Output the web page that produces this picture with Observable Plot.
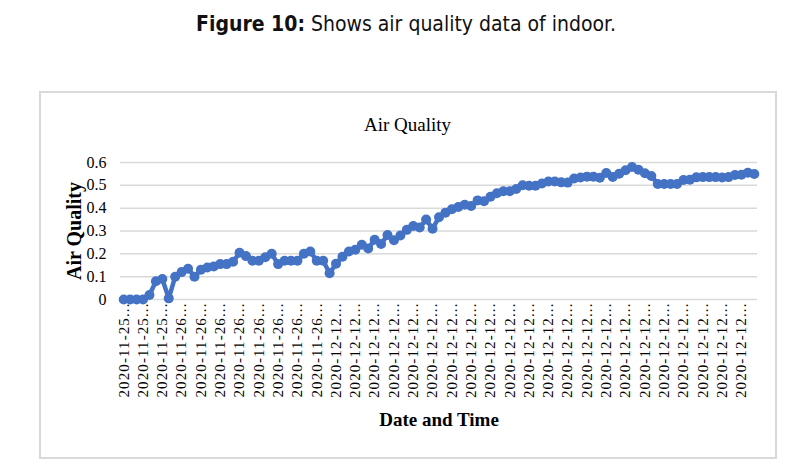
<!DOCTYPE html>
<html><head><meta charset="utf-8">
<script src="https://cdn.jsdelivr.net/npm/d3@7"></script>
<script src="https://cdn.jsdelivr.net/npm/@observablehq/plot@0.6"></script>
<style>
body{margin:0;background:#fff;}
#page{position:relative;width:792px;height:462px;overflow:hidden;background:#fff;}
#caption{position:absolute;left:0;top:12px;width:812px;text-align:center;font-family:"Liberation Sans Narrow","DejaVu Sans",sans-serif;font-stretch:condensed;font-size:21px;color:#111;}
#box{position:absolute;left:39px;top:91px;width:738px;height:368px;border:2px solid #d9d9d9;box-sizing:border-box;}
#title{position:absolute;left:40px;top:114px;width:735px;text-align:center;font-family:"Liberation Serif","Times New Roman",serif;font-size:19px;color:#000;}
#chart{position:absolute;left:40px;top:93px;}
#chart g[aria-label="x-axis tick label"] text{letter-spacing:1.1px;}
</style></head>
<body><div id="page">
<div id="caption"><b>Figure 10:</b> Shows air quality data of indoor.</div>
<div id="box"></div>
<div id="title">Air Quality</div>
<div id="chart"></div>
</div>
<script>
// Air quality readings, one per category (99 categories)
const airQuality = [
  0, 0, 0, 0, 0.02, 0.08, 0.09, 0.005, 0.10, 0.12,
  0.135, 0.10, 0.13, 0.14, 0.145, 0.155, 0.155, 0.165, 0.205, 0.19,
  0.17, 0.17, 0.185, 0.20, 0.155, 0.17, 0.17, 0.17, 0.20, 0.21,
  0.17, 0.17, 0.115, 0.157, 0.187, 0.21, 0.218, 0.24, 0.223, 0.262,
  0.243, 0.282, 0.26, 0.28, 0.305, 0.322, 0.315, 0.35, 0.31, 0.36,
  0.38, 0.395, 0.405, 0.415, 0.41, 0.434, 0.43, 0.45, 0.465, 0.474,
  0.474, 0.484, 0.50, 0.498, 0.498, 0.508, 0.517, 0.517, 0.513, 0.512,
  0.53, 0.534, 0.538, 0.538, 0.533, 0.554, 0.537, 0.551, 0.566, 0.58,
  0.568, 0.553, 0.541, 0.506, 0.506, 0.506, 0.506, 0.523, 0.525, 0.535,
  0.536, 0.536, 0.536, 0.534, 0.536, 0.545, 0.546, 0.555, 0.55
];
// Visible (truncated) category labels, shown on every third category
const tickLabels = [
  "2020-11-25...", "2020-11-25...", "2020-11-25...",
  "2020-11-26...", "2020-11-26...", "2020-11-26...", "2020-11-26...",
  "2020-11-26...", "2020-11-26...", "2020-11-26...", "2020-11-26...",
  "2020-12-12...", "2020-12-12...", "2020-12-12...", "2020-12-12...",
  "2020-12-12...", "2020-12-12...", "2020-12-12...", "2020-12-12...",
  "2020-12-12...", "2020-12-12...", "2020-12-12...", "2020-12-12...",
  "2020-12-12...", "2020-12-12...", "2020-12-12...", "2020-12-12...",
  "2020-12-12...", "2020-12-12...", "2020-12-12...", "2020-12-12...",
  "2020-12-12...", "2020-12-12..."
];
const labelStep = 3;
const yTicks = [0, 0.1, 0.2, 0.3, 0.4, 0.5, 0.6];
const yTitle = "Air Quality";
const xTitle = "Date and Time";

const categories = airQuality.map((_, i) => i);
const data = airQuality.map((v, i) => ({i, v}));
const tickIdx = tickLabels.map((_, k) => k * labelStep);

const serif = '"Liberation Serif", "Times New Roman", serif';
const chart = Plot.plot({
  width: 735, height: 362,
  marginLeft: 80, marginRight: 18, marginTop: 69, marginBottom: 156,
  style: {fontFamily: serif, color: "#000", background: "transparent", overflow: "visible"},
  x: {type: "point", domain: categories, padding: 0.5, align: 0.5, axis: null},
  y: {domain: [0, 0.6], axis: null},
  marks: [
    Plot.ruleY(yTicks, {stroke: "#d9d9d9", strokeWidth: 1.5}),
    Plot.axisY(yTicks, {tickSize: 0, tickPadding: 14, fontSize: 16, label: null,
      tickFormat: d => d === 0 ? "0" : d.toFixed(1)}),
    Plot.axisX(tickIdx, {tickSize: 0, tickPadding: 3, tickRotate: -90, fontSize: 15, label: null,
      tickFormat: i => tickLabels[i / labelStep]}),
    Plot.line(data, {x: "i", y: "v", stroke: "#4472C4", strokeWidth: 4.5}),
    Plot.dot(data, {x: "i", y: "v", fill: "#4472C4", r: 5}),
    Plot.text([yTitle], {text: d => d, frameAnchor: "left", dx: -46, rotate: -90,
      textAnchor: "middle", lineAnchor: "middle", fontWeight: "bold", fontSize: 20, fill: "#000"}),
    Plot.text([xTitle], {text: d => d, frameAnchor: "bottom", dy: 120,
      textAnchor: "middle", lineAnchor: "middle", fontWeight: "bold", fontSize: 19, fill: "#000"})
  ]
});
document.getElementById("chart").appendChild(chart);
</script>
</body></html>
